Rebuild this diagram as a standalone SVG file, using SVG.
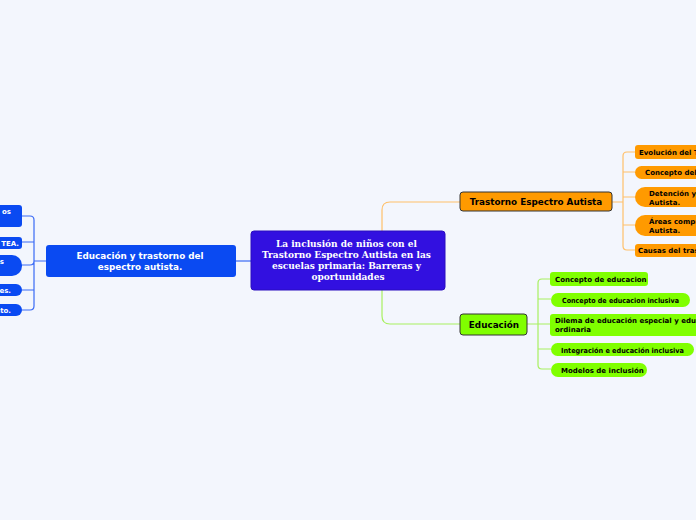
<svg xmlns="http://www.w3.org/2000/svg" width="696" height="520" viewBox="0 0 696 520">
<style>
.t{font-family:"DejaVu Sans",Verdana,sans-serif;font-weight:bold;}
.c7{font-size:7px;fill:#000;}
.cw7{font-size:7px;fill:#fff;}
.orr{fill:#ff9a00;}
.grn{fill:#80ff00;}
.blu{fill:#0a4af2;}
.lo{fill:none;stroke:#ffc06a;stroke-width:1.2;}
.lg{fill:none;stroke:#a8f060;stroke-width:1.2;}
.lb{fill:none;stroke:#3a6af5;stroke-width:1.2;}
</style>
<rect width="696" height="520" fill="#f3f6fd"/>
<g id="connectors">
<path class="lb" d="M236 261 H251"/>
<path class="lb" d="M46 261 H34 M22 216 H30 Q34 216 34 220 V306 Q34 310 30 310 H22 M22 242 H34 M22 265 H30 Q34 265 34 261 M22 290 H34"/>
<path class="lo" d="M382 231 V210 Q382 202 390 202 H460"/>
<path class="lg" d="M382 290 V316 Q382 324 390 324 H460"/>
<path class="lo" d="M612 202 H623 M635 152 H627 Q623 152 623 156 V246 Q623 250 627 250 H635 M623 172 H635 M623 197 H635 M623 225 H635"/>
<path class="lg" d="M527 324 H538 M550 279 H542 Q538 279 538 283 V365 Q538 369 542 369 H551 M538 299 H551 M538 324 H550 M538 349 H551"/>
</g>
<g id="central">
<rect x="251" y="231" width="194" height="59" rx="3" fill="#3210e0" stroke="#2a0cc0" stroke-width="1"/>
<text font-family="'DejaVu Serif','Liberation Serif',serif" font-weight="bold" font-size="9" fill="#fff" text-anchor="middle">
<tspan x="348" y="247">La inclusión de niños con el</tspan>
<tspan x="348" y="258">Trastorno Espectro Autista en las</tspan>
<tspan x="348" y="269">escuelas primaria: Barreras y</tspan>
<tspan x="348" y="280">oportunidades</tspan>
</text>
</g>
<g id="edu-tea">
<rect class="blu" x="46" y="245" width="190" height="32" rx="3"/>
<text class="t" font-size="8.8" fill="#fff" text-anchor="middle"><tspan x="140" y="259">Educación y trastorno del</tspan><tspan x="140" y="270">espectro autista.</tspan></text>
</g>
<g id="left1"><rect class="blu" x="-10" y="205" width="32" height="22" rx="3"/><text class="t cw7" x="11" y="214" text-anchor="end">os</text></g>
<g id="left2"><rect class="blu" x="-10" y="237" width="32" height="12" rx="3"/><text class="t cw7" x="19" y="245.5" text-anchor="end">TEA.</text></g>
<g id="left3"><rect class="blu" x="-10" y="255" width="32" height="21" rx="10"/><text class="t cw7" x="4" y="264" text-anchor="end">s</text></g>
<g id="left4"><rect class="blu" x="-10" y="284" width="32" height="12" rx="6"/><text class="t cw7" x="11" y="292.5" text-anchor="end">res.</text></g>
<g id="left5"><rect class="blu" x="-10" y="304" width="32" height="12" rx="6"/><text class="t cw7" x="11" y="312.5" text-anchor="end">nto.</text></g>
<g id="tea">
<rect class="orr" x="460" y="192" width="152" height="19" rx="3" stroke="#333" stroke-width="1"/>
<text class="t" font-size="8.8" fill="#000" x="536" y="205" text-anchor="middle">Trastorno Espectro Autista</text>
</g>
<g id="educacion">
<rect class="grn" x="460" y="314" width="67" height="21" rx="3" stroke="#333" stroke-width="1"/>
<text class="t" font-size="8.8" fill="#000" x="494" y="328" text-anchor="middle">Educación</text>
</g>
<g id="o1"><rect class="orr" x="635" y="145" width="80" height="14" rx="3"/><text class="t c7" x="639" y="155">Evolución del TEA</text></g>
<g id="o2"><rect class="orr" x="635" y="166" width="80" height="13" rx="6.5"/><text class="t c7" x="645" y="175">Concepto del TEA</text></g>
<g id="o3"><rect class="orr" x="635" y="187" width="80" height="20" rx="10"/><text class="t c7"><tspan x="649" y="196">Detención y atención del Trastorno Espectro</tspan><tspan x="649" y="204.5">Autista.</tspan></text></g>
<g id="o4"><rect class="orr" x="635" y="215" width="80" height="21" rx="10"/><text class="t c7"><tspan x="649" y="224">Áreas comprometidas en el Trastorno Espectro</tspan><tspan x="649" y="232.5">Autista.</tspan></text></g>
<g id="o5"><rect class="orr" x="635" y="244" width="80" height="13" rx="3"/><text class="t c7" x="638" y="253">Causas del trastorno</text></g>
<g id="g1"><rect class="grn" x="550" y="272" width="98" height="14" rx="3"/><text class="t c7" x="555" y="282">Concepto de educacion</text></g>
<g id="g2"><rect class="grn" x="551" y="293" width="139" height="14" rx="7"/><text class="t c7" x="562" y="302.5" textLength="117" lengthAdjust="spacingAndGlyphs">Concepto de educacion inclusiva</text></g>
<g id="g3"><rect class="grn" x="550" y="314" width="160" height="22" rx="3"/><text class="t c7"><tspan x="555" y="323">Dilema de educación especial y educación</tspan><tspan x="555" y="332">ordinaria</tspan></text></g>
<g id="g4"><rect class="grn" x="551" y="343" width="143" height="13" rx="6.5"/><text class="t c7" x="561" y="352.5" textLength="123" lengthAdjust="spacingAndGlyphs">Integración e educación inclusiva</text></g>
<g id="g5"><rect class="grn" x="551" y="363" width="96" height="14" rx="7"/><text class="t c7" x="561" y="372.5">Modelos de inclusión</text></g>
</svg>
